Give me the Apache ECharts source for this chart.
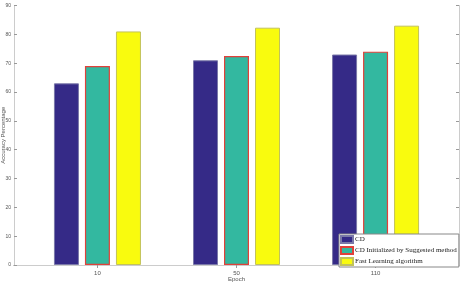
<!DOCTYPE html>
<html>
<head>
<meta charset="utf-8">
<script src="https://cdn.jsdelivr.net/npm/echarts@6/dist/echarts.min.js"></script>
<style>
  html, body { margin: 0; padding: 0; background: #fff; }
  #chart { width: 467px; height: 282px; }
</style>
</head>
<body>
<div id="chart"></div>
<script>
// epochs shown on the x axis, placed at x = 1, 2, 3
const epochs = ['10', '50', '110']
const positions = [1, 2, 3]

const seriesNames = ['CD', 'CD Initialized by Suggested method', 'Fast Learning algorithm']
const cdValues = [63, 71, 73]
const cdInitValues = [69, 72.5, 74]
const fastValues = [81, 82.3, 83]

const yTicks = [0, 10, 20, 30, 40, 50, 60, 70, 80, 90]

const chart = echarts.init(document.getElementById('chart'))

function pairs(values) {
  return values.map((v, i) => [positions[i], v])
}

const tickFont = { fontSize: 6, color: '#555', fontFamily: 'Liberation Sans' }

const option = {
  animation: false,
  backgroundColor: '#fff',
  grid: { left: 14, right: 8, top: 5.5, bottom: 17, outerBoundsMode: 'none', containLabel: false },
  legend: {
    orient: 'vertical',
    left: 339,
    top: 234,
    padding: [1, 2, 1, 1],
    itemGap: 2,
    itemWidth: 12,
    itemHeight: 7,
    icon: 'rect',
    backgroundColor: '#fff',
    borderColor: '#888',
    borderWidth: 1,
    textStyle: { fontFamily: 'Liberation Serif', fontSize: 7, color: '#222', padding: [0, 0, 0, -3] },
    data: seriesNames
  },
  xAxis: [
    {
      type: 'value',
      min: 0.4,
      max: 3.6,
      position: 'bottom',
      name: 'Epoch',
      nameLocation: 'middle',
      nameGap: 11,
      nameMoveOverlap: false,
      nameTextStyle: { fontSize: 6, color: '#555', fontFamily: 'Liberation Sans' },
      splitLine: { show: false },
      axisLine: { lineStyle: { color: '#777', width: 1 } },
      axisTick: { show: true, inside: true, length: 3, customValues: positions, lineStyle: { color: '#888' } },
      axisLabel: {
        ...tickFont,
        margin: 5,
        customValues: positions,
        formatter: v => epochs[positions.indexOf(Math.round(v))] || ''
      }
    },
    {
      type: 'value',
      min: 0.4,
      max: 3.6,
      position: 'top',
      splitLine: { show: false },
      axisLine: { lineStyle: { color: '#ccc', width: 1 } },
      axisTick: { show: true, inside: true, length: 3, customValues: positions, lineStyle: { color: '#999' } },
      axisLabel: { show: false }
    }
  ],
  yAxis: [
    {
      type: 'value',
      min: 0,
      max: 90,
      interval: 10,
      position: 'left',
      name: 'Accuracy Percentage',
      nameLocation: 'middle',
      nameGap: 8,
      nameMoveOverlap: false,
      nameTextStyle: { fontSize: 6, color: '#555', fontFamily: 'Liberation Sans' },
      splitLine: { show: false },
      axisLine: { show: true, lineStyle: { color: '#ccc', width: 1 } },
      axisTick: { show: true, inside: true, length: 3, lineStyle: { color: '#999' } },
      axisLabel: { ...tickFont, fontSize: 5, margin: 3, customValues: yTicks }
    },
    {
      type: 'value',
      min: 0,
      max: 90,
      interval: 10,
      position: 'right',
      splitLine: { show: false },
      axisLine: { show: true, lineStyle: { color: '#ccc', width: 1 } },
      axisTick: { show: true, inside: true, length: 3, lineStyle: { color: '#999' } },
      axisLabel: { show: false }
    }
  ],
  series: [
    {
      name: seriesNames[0],
      type: 'bar',
      data: pairs(cdValues),
      barWidth: 25,
      barGap: '24%',
      itemStyle: { color: '#352a87', borderColor: '#7a78a8', borderWidth: 1 }
    },
    {
      name: seriesNames[1],
      type: 'bar',
      data: pairs(cdInitValues),
      barWidth: 25,
      barGap: '24%',
      itemStyle: { color: '#33b8a0', borderColor: '#e0413a', borderWidth: 1.2 }
    },
    {
      name: seriesNames[2],
      type: 'bar',
      data: pairs(fastValues),
      barWidth: 25,
      barGap: '24%',
      itemStyle: { color: '#f9fb0e', borderColor: '#c2c25a', borderWidth: 1 }
    }
  ]
}

chart.setOption(option)
</script>
</body>
</html>
